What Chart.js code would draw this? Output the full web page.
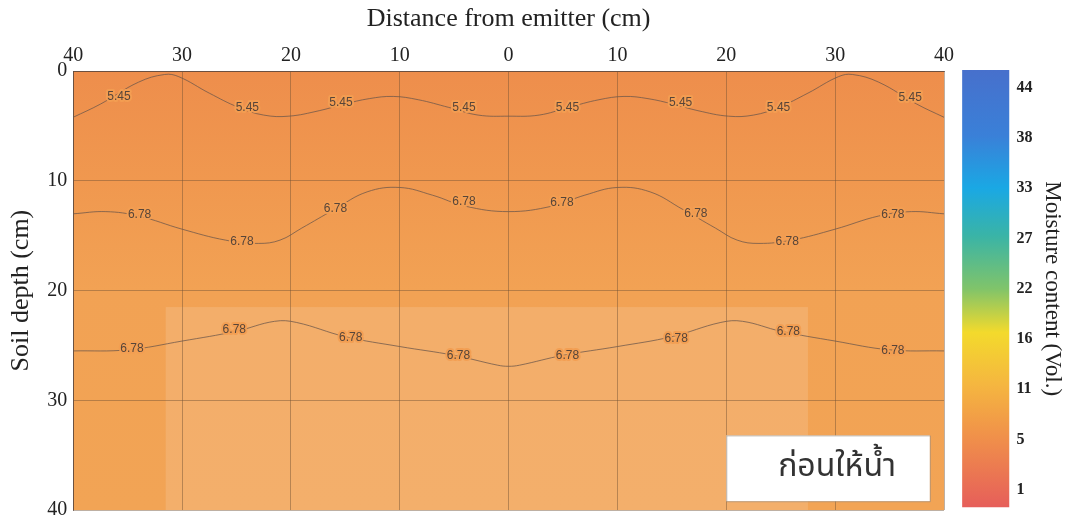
<!DOCTYPE html>
<html>
<head>
<meta charset="utf-8">
<script src="https://cdn.jsdelivr.net/npm/chart.js@4.4.1/dist/chart.umd.min.js"></script>
<style>
html, body { margin: 0; padding: 0; background: #fff; overflow: hidden; }
#main { position: absolute; left: 0; top: 0; width: 960px; height: 528px; }
#bar { position: absolute; left: 955px; top: 0; width: 116px; height: 517px; }
</style>
</head>
<body>
<div id="main"><canvas id="contourChart"></canvas></div>
<div id="bar"><canvas id="scaleChart"></canvas></div>
<script>
// contour 5.45 (distance cm, depth cm)
const line545X = [-40, -37.5, -34, -31.6, -30.3, -27.5, -24.8, -22.5, -20.2, -17.4, -15.1, -12.8, -10.6, -8.3, -5.5, -2.8, 0,
                  2.8, 5.5, 8.3, 10.6, 12.8, 15.1, 17.4, 20.2, 22.5, 24.8, 27.5, 30.3, 31.6, 34, 37.5, 40];
const line545Y = [4.2, 3.0, 1.0, 0.3, 0.5, 2.0, 3.3, 4.0, 4.1, 3.6, 3.0, 2.5, 2.3, 2.6, 3.3, 4.0, 4.1,
                  4.0, 3.3, 2.6, 2.3, 2.5, 3.0, 3.6, 4.1, 4.0, 3.3, 2.0, 0.5, 0.3, 1.0, 3.0, 4.2];
// contour 6.78, upper
const line678aX = [-40, -37, -34, -30, -26, -23, -21, -19, -16, -13, -10, -7, -4, 0,
                   4, 7, 10, 13, 16, 19, 21, 23, 26, 30, 34, 37, 40];
const line678aY = [13.0, 12.8, 13.2, 14.4, 15.4, 15.7, 15.4, 14.3, 12.6, 11.0, 10.6, 11.3, 12.3, 12.8,
                   12.3, 11.3, 10.6, 11.0, 12.6, 14.3, 15.4, 15.7, 15.4, 14.4, 13.2, 12.8, 13.0];
// contour 6.78, lower
const line678bX = [-40, -35, -30, -25, -21.5, -19.5, -15, -10, -5, -1, 0, 1, 5, 10, 15, 19.5, 21.5, 25, 30, 35, 40];
const line678bY = [25.5, 25.4, 24.6, 23.7, 22.8, 22.9, 24.2, 25.1, 25.9, 26.8, 26.9, 26.8, 25.9, 25.1, 24.2, 22.9, 22.8, 23.7, 24.6, 25.4, 25.5];

// where the contour values are written
const lab545X = [-35.8, -24.0, -15.4, -4.1, 5.4, 15.8, 24.8, 36.9];
const lab545Y = [2.3, 3.3, 2.9, 3.3, 3.3, 2.9, 3.3, 2.4];
const lab678aX = [-33.9, -24.5, -15.9, -4.1, 4.9, 17.2, 25.6, 35.3];
const lab678aY = [13.1, 15.5, 12.5, 11.9, 12.0, 13.0, 15.5, 13.1];
const lab678bX = [-34.6, -25.2, -14.5, -4.6, 5.4, 15.4, 25.7, 35.3];
const lab678bY = [25.3, 23.6, 24.3, 25.9, 25.9, 24.4, 23.7, 25.5];

const scaleLabels = ['44', '38', '33', '27', '22', '16', '11', '5', '1'];
const scaleStops = [
  [0, '#4770cc'], [0.15, '#3a80d8'], [0.27, '#1aa8e4'], [0.38, '#3ab4a6'], [0.5, '#80c46a'],
  [0.6, '#f3da2c'], [0.72, '#f5b640'], [0.84, '#f0904a'], [1, '#e65e5a']
];
const stageText = 'ก่อนให้น้ำ';

const zip = (xs, ys) => xs.map((x, i) => ({ x: x, y: ys[i] }));
const serif = "'Liberation Serif', 'Times New Roman', serif";

const lineStyle = {
  showLine: true,
  borderColor: 'rgba(105,85,75,0.75)',
  borderWidth: 1,
  pointRadius: 0,
  tension: 0.4,
  fill: false
};

const fieldPlugin = {
  id: 'field',
  beforeDraw(chart) {
    const a = chart.chartArea, c = chart.ctx;
    const g = c.createLinearGradient(0, a.top, 0, a.bottom);
    g.addColorStop(0, '#ee8e4c');
    g.addColorStop(0.25, '#f0984f');
    g.addColorStop(0.5, '#f2a254');
    g.addColorStop(1, '#f2a455');
    c.save();
    c.fillStyle = g;
    c.fillRect(a.left, a.top, a.right - a.left, a.bottom - a.top);
    // faint lighter patch of the scanned page
    const xs = chart.scales.x, ys = chart.scales.y;
    const x0 = xs.getPixelForValue(-31.5), x1 = xs.getPixelForValue(27.5);
    const y0 = ys.getPixelForValue(21.5);
    c.fillStyle = 'rgba(255,255,255,0.13)';
    c.fillRect(x0, y0, x1 - x0, a.bottom - y0);
    c.restore();
  },
  afterDatasetsDraw(chart) {
    const c = chart.ctx, xs = chart.scales.x, ys = chart.scales.y;
    c.save();
    c.font = "12px 'Liberation Sans', Arial, sans-serif";
    c.textAlign = 'center';
    c.textBaseline = 'middle';
    c.lineJoin = 'round';
    const put = (lx, ly, txt) => {
      lx.forEach((x, i) => {
        const px = xs.getPixelForValue(x), py = ys.getPixelForValue(ly[i]);
        c.lineWidth = 4;
        c.strokeStyle = 'rgba(242,158,82,0.95)';
        c.strokeText(txt, px, py);
        c.fillStyle = '#574539';
        c.fillText(txt, px, py);
      });
    };
    put(lab545X, lab545Y, '5.45');
    put(lab678aX, lab678aY, '6.78');
    put(lab678bX, lab678bY, '6.78');

    // stage box
    const bx0 = xs.getPixelForValue(20), bx1 = xs.getPixelForValue(38.7);
    const by0 = ys.getPixelForValue(33.2), by1 = ys.getPixelForValue(39.2);
    c.fillStyle = '#ffffff';
    c.fillRect(bx0, by0, bx1 - bx0, by1 - by0);
    c.strokeStyle = 'rgba(150,140,130,0.6)';
    c.lineWidth = 1;
    c.strokeRect(bx0 + 0.5, by0 + 0.5, bx1 - bx0, by1 - by0);
    c.fillStyle = '#333';
    c.font = "32px 'Noto Sans Thai', 'Loma', 'Tahoma', sans-serif";
    c.fillText(stageText, (bx0 + bx1) / 2 + 9, (by0 + by1) / 2 + 1);
    c.restore();
  }
};

new Chart(document.getElementById('contourChart'), {
  type: 'scatter',
  data: {
    datasets: [
      Object.assign({ label: '5.45', data: zip(line545X, line545Y) }, lineStyle),
      Object.assign({ label: '6.78 a', data: zip(line678aX, line678aY) }, lineStyle),
      Object.assign({ label: '6.78 b', data: zip(line678bX, line678bY) }, lineStyle)
    ]
  },
  options: {
    responsive: true,
    maintainAspectRatio: false,
    animation: false,
    layout: { padding: { left: 6, right: 16, top: 4, bottom: 2 } },
    plugins: { legend: { display: false }, tooltip: { enabled: false } },
    scales: {
      x: {
        type: 'linear',
        position: 'top',
        min: -40, max: 40,
        ticks: {
          stepSize: 10,
          callback: v => Math.abs(v),
          font: { family: serif, size: 20 },
          color: '#222',
          padding: 3
        },
        grid: { color: 'rgba(110,80,50,0.45)', drawTicks: false },
        border: { color: 'rgba(90,70,60,0.8)' },
        title: {
          display: true,
          text: 'Distance from emitter (cm)',
          font: { family: serif, size: 26 },
          color: '#222',
          padding: { top: 0, bottom: 6 }
        }
      },
      y: {
        type: 'linear',
        reverse: true,
        min: 0, max: 40,
        ticks: {
          stepSize: 10,
          font: { family: serif, size: 20 },
          color: '#222',
          padding: 6
        },
        grid: { color: 'rgba(110,80,50,0.45)', drawTicks: false },
        border: { color: 'rgba(90,70,60,0.8)' },
        title: {
          display: true,
          text: 'Soil depth (cm)',
          font: { family: serif, size: 26 },
          color: '#222',
          padding: { top: 0, bottom: 4 }
        }
      }
    }
  },
  plugins: [fieldPlugin]
});

new Chart(document.getElementById('scaleChart'), {
  type: 'bar',
  data: {
    labels: ['scale'],
    datasets: [{
      data: [[-0.35, 8.35]],
      barPercentage: 0.767,
      categoryPercentage: 1,
      borderWidth: 0,
      backgroundColor: c => {
        const a = c.chart.chartArea;
        if (!a) return '#f0904a';
        const g = c.chart.ctx.createLinearGradient(0, a.top, 0, a.bottom);
        scaleStops.forEach(s => g.addColorStop(s[0], s[1]));
        return g;
      }
    }]
  },
  options: {
    responsive: true,
    maintainAspectRatio: false,
    animation: false,
    layout: { padding: { left: 0, right: 5, top: 70, bottom: 0 } },
    plugins: { legend: { display: false }, tooltip: { enabled: false } },
    scales: {
      x: { display: false },
      y: {
        position: 'right',
        reverse: true,
        min: -0.35, max: 8.35,
        afterBuildTicks: axis => { axis.ticks = scaleLabels.map((_, i) => ({ value: i })); },
        ticks: {
          callback: v => scaleLabels[v],
          font: { family: serif, size: 16, weight: 'bold' },
          color: '#222',
          padding: 0
        },
        grid: { display: false, drawTicks: false },
        border: { display: false },
        title: {
          display: true,
          text: 'Moisture content (Vol.)',
          font: { family: serif, size: 23 },
          color: '#222',
          padding: { top: 0, bottom: 6 }
        }
      }
    }
  }
});
</script>
</body>
</html>
